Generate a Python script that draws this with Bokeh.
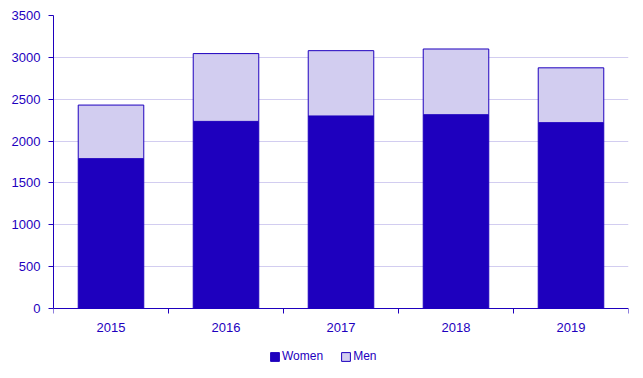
from bokeh.plotting import figure
from bokeh.models import ColumnDataSource, FixedTicker, Legend, LegendItem, Range1d
from bokeh.embed import file_html
from bokeh.resources import INLINE

years = ["2015", "2016", "2017", "2018", "2019"]
women = [1790, 2235, 2300, 2315, 2220]
men = [640, 810, 780, 785, 655]
y_ticks = [0, 500, 1000, 1500, 2000, 2500, 3000, 3500]

DARK = "#1e00be"
LIGHT = "#d2cdf0"
FONT = "Liberation Sans"

# frame geometry: top of value axis at 15px, zero line at 308px, frame bottom at 370px
Y_MAX = 3500
Y_MIN = -Y_MAX * (370 - 308) / (308 - 15)

xpos = [i + 0.5 for i in range(len(years))]
src = ColumnDataSource(dict(x=xpos, women=women, men=men, years=years))

p = figure(width=635, height=370, output_backend="svg", toolbar_location=None,
           x_range=Range1d(0, len(years)), y_range=Range1d(Y_MIN, Y_MAX),
           min_border_left=53, min_border_right=7, min_border_top=15, min_border_bottom=0)
p.outline_line_color = None

rs = p.vbar_stack(["women", "men"], x="x", width=0.57, source=src,
                  fill_color=[DARK, LIGHT], line_color=DARK, line_width=1)

p.xgrid.grid_line_color = None
p.ygrid.grid_line_color = LIGHT
p.ygrid.grid_line_width = 1
p.yaxis.ticker = FixedTicker(ticks=y_ticks)
p.yaxis.bounds = (0, Y_MAX)

p.xaxis.fixed_location = 0
p.xaxis.ticker = FixedTicker(ticks=xpos, minor_ticks=list(range(0, len(years) + 1)))
p.xaxis.major_label_overrides = {x: y for x, y in zip(xpos, years)}
p.xaxis.major_tick_out = 0
p.xaxis.major_tick_in = 0
p.xaxis.minor_tick_out = 5
p.xaxis.minor_tick_in = 0
p.xaxis.minor_tick_line_color = DARK
p.xaxis.major_label_standoff = 9

p.yaxis.major_tick_out = 5
p.yaxis.major_tick_in = 0
p.yaxis.minor_tick_line_color = None
p.yaxis.major_label_standoff = 8

for ax in (p.xaxis, p.yaxis):
    ax.axis_line_color = DARK
    ax.major_tick_line_color = DARK
    ax.major_label_text_color = DARK
    ax.major_label_text_font = FONT
    ax.major_label_text_font_size = "13px"

legend = Legend(items=[LegendItem(label="Women", renderers=[rs[0]]),
                       LegendItem(label="Men", renderers=[rs[1]])],
                orientation="horizontal", location=(216, 7),
                glyph_width=11, glyph_height=11, label_text_font=FONT,
                label_text_font_size="12px", label_text_color=DARK,
                label_standoff=2, spacing=17, padding=2, margin=0,
                border_line_color=None, background_fill_alpha=0)
p.add_layout(legend)

open("out.html", "w").write(file_html(p, INLINE))
